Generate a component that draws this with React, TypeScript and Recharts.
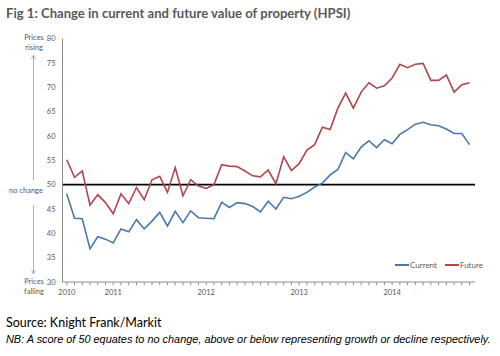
import React from 'react'
import {
  LineChart,
  Line,
  XAxis,
  YAxis,
  ReferenceLine,
  Legend
} from 'recharts'

// HPSI monthly readings, Jul 2010 - Nov 2014
const current = [
  48.1, 43.1, 43.0, 36.8, 39.3, 38.8, 38.0, 40.9, 40.3, 42.8, 40.9, 42.5, 44.3,
  41.5, 44.5, 42.2, 44.6, 43.2, 43.1, 43.0, 46.4, 45.3, 46.3, 46.1, 45.5, 44.4,
  46.6, 45.0, 47.4, 47.1, 47.6, 48.4, 49.5, 50.3, 52.0, 53.1, 56.6, 55.3, 57.7,
  59.0, 57.6, 59.2, 58.4, 60.3, 61.3, 62.4, 62.8, 62.3, 62.1, 61.4, 60.5, 60.5,
  58.2
]
const future = [
  55.1, 51.5, 52.8, 45.8, 47.9, 46.3, 44.0, 48.1, 46.1, 49.4, 46.9, 51.0, 51.7,
  48.4, 53.5, 47.7, 51.0, 49.7, 49.2, 50.0, 54.1, 53.8, 53.7, 52.8, 51.8, 51.6,
  53.0, 50.2, 55.7, 52.9, 54.3, 57.1, 58.2, 61.8, 61.3, 65.7, 68.8, 65.7, 69.0,
  70.9, 69.8, 70.3, 71.9, 74.7, 74.0, 74.7, 74.9, 71.4, 71.4, 72.5, 69.0, 70.5,
  70.9
]
const yearLabels = ['2010', '2011', '2012', '2013', '2014']
const yearStartIndex = [0, 6, 18, 30, 42]
const yTicks = [30, 35, 40, 45, 50, 55, 60, 65, 70, 75, 80]

const data = current.map((c, i) => ({ i, current: c, future: future[i] }))
const monthTicks = data.map((d) => d.i)

const BLUE = '#4a78aa'
const RED = '#b1464c'
const GREY = '#595959'
const FONT = 'Lato, "Open Sans", sans-serif'

function yearFor(v: number) {
  const k = yearStartIndex.indexOf(v)
  return k >= 0 ? yearLabels[k] : ''
}

function LegendBox() {
  const item = (color: string, label: string) => (
    <span style={{ display: 'inline-flex', alignItems: 'center', marginRight: 8 }}>
      <span style={{ display: 'inline-block', width: 14, height: 2, background: color }} />
      <span style={{ marginLeft: 1 }}>{label}</span>
    </span>
  )
  return (
    <div style={{ fontFamily: FONT, fontSize: 8, color: GREY, whiteSpace: 'nowrap' }}>
      {item(BLUE, 'Current')}
      {item(RED, 'Future')}
    </div>
  )
}

export default function App() {
  const side: React.CSSProperties = {
    position: 'absolute',
    fontFamily: FONT,
    fontSize: 7.5,
    color: GREY,
    textAlign: 'center',
    lineHeight: '10px'
  }
  return (
    <div
      style={{
        position: 'absolute',
        left: 0,
        top: 0,
        width: 500,
        height: 356,
        background: '#fff',
        overflow: 'hidden'
      }}
    >
      <div
        style={{
          position: 'absolute',
          left: 6,
          top: 5,
          fontFamily: FONT,
          fontWeight: 700,
          fontSize: 13.1,
          color: GREY,
          whiteSpace: 'nowrap'
        }}
      >
        Fig 1: Change in current and future value of property (HPSI)
      </div>

      <LineChart
        width={500}
        height={320}
        data={data}
        margin={{ top: 38.5, right: 25, left: 12.5, bottom: 0 }}
        style={{ position: 'absolute', left: 0, top: 0 }}
      >
        <XAxis
          dataKey="i"
          type="number"
          domain={[-0.55, 52.7]}
          ticks={monthTicks}
          interval={0}
          tickFormatter={yearFor}
          height={26}
          tickSize={3}
          tickMargin={5}
          stroke="#8c8c8c"
          tick={{ fill: GREY, fontSize: 7.5, fontFamily: FONT }}
        />
        <YAxis
          domain={[30, 80]}
          ticks={yTicks}
          width={50}
          tickSize={0}
          tickMargin={7}
          stroke="#8c8c8c"
          tick={{ fill: GREY, fontSize: 7.5, fontFamily: FONT }}
        />
        <ReferenceLine y={50} stroke="#000" strokeWidth={1.6} />
        <Line
          dataKey="current"
          name="Current"
          stroke={BLUE}
          strokeWidth={1.6}
          dot={false}
          isAnimationActive={false}
        />
        <Line
          dataKey="future"
          name="Future"
          stroke={RED}
          strokeWidth={1.6}
          dot={false}
          isAnimationActive={false}
        />
        <Legend
          content={<LegendBox />}
          wrapperStyle={{ position: 'absolute', left: 395, top: 258, width: 110 }}
        />
      </LineChart>

      <div style={{ ...side, left: 19, top: 33, width: 30 }}>
        Prices
        <br />
        rising
      </div>
      <div style={{ ...side, left: 1, top: 186, width: 50 }}>no change</div>
      <div style={{ ...side, left: 19, top: 277, width: 30 }}>
        Prices
        <br />
        falling
      </div>
      <svg
        width={60}
        height={300}
        style={{ position: 'absolute', left: 0, top: 0 }}
      >
        <line x1={33.5} y1={56} x2={33.5} y2={180} stroke="#b0b0b0" strokeWidth={1} />
        <path d="M31.5 59 L33.5 55 L35.5 59" fill="none" stroke="#b0b0b0" />
        <line x1={33.5} y1={205} x2={33.5} y2={273} stroke="#b0b0b0" strokeWidth={1} />
        <path d="M31.5 270 L33.5 274 L35.5 270" fill="none" stroke="#b0b0b0" />
      </svg>

      <div
        style={{
          position: 'absolute',
          left: 6,
          top: 315,
          fontFamily: FONT,
          fontSize: 12.5,
          color: '#000',
          whiteSpace: 'nowrap'
        }}
      >
        Source: Knight Frank/Markit
      </div>
      <div
        style={{
          position: 'absolute',
          left: 6,
          top: 333,
          fontFamily: '"Liberation Sans", Arial, sans-serif',
          fontStyle: 'italic',
          fontSize: 10.9,
          color: '#000',
          whiteSpace: 'nowrap'
        }}
      >
        NB: A score of 50 equates to no change, above or below representing growth or decline respectively.
      </div>
    </div>
  )
}
